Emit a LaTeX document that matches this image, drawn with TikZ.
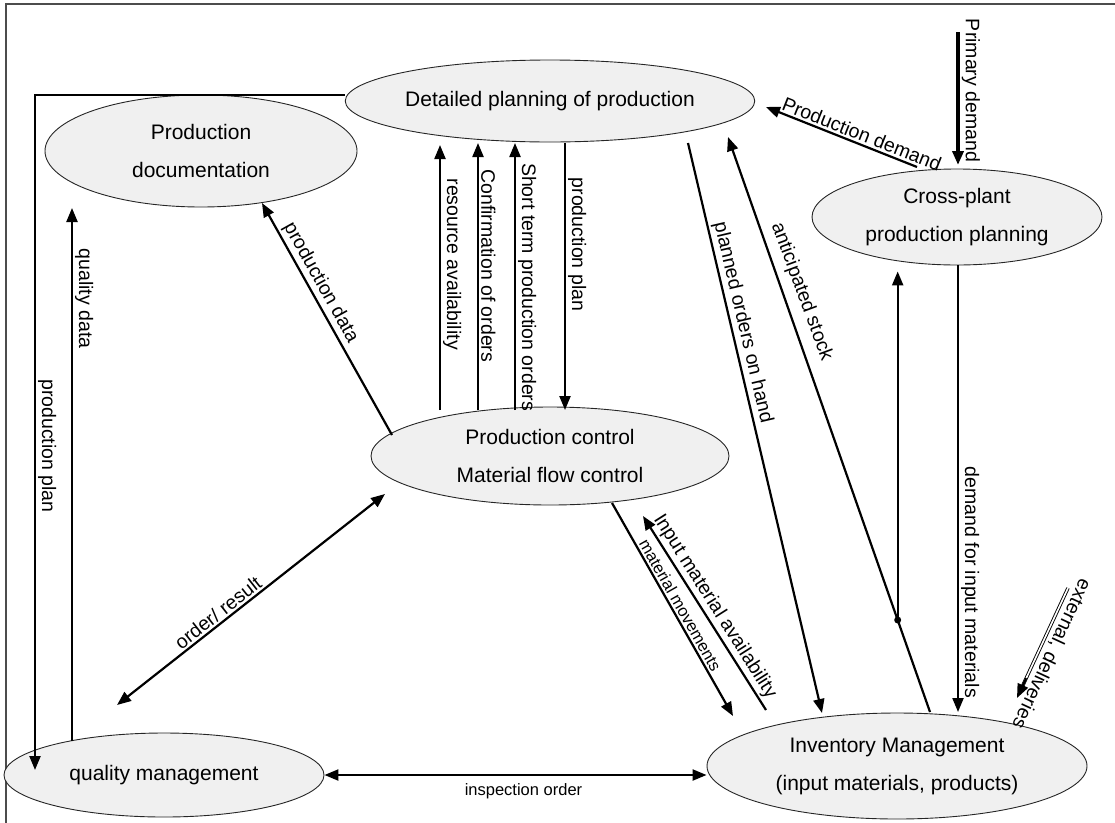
\documentclass[tikz,border=0pt]{standalone}
\usepackage{fontspec}
\setmainfont{Liberation Sans}
\usetikzlibrary{arrows.meta,calc,shapes.geometric}

\begin{document}
\begin{tikzpicture}[x=1pt,y=-1pt,
  proc/.style={ellipse, draw=black!85, line width=0.9pt, fill=gray!12,
    inner sep=0pt, align=center, font=\fontsize{21}{38}\selectfont},
  tipshape/.style={-{Triangle[length=14pt,width=11pt]}},
  flow/.style={line width=2.2pt, tipshape},
  flowboth/.style={line width=2.2pt, {Triangle[length=14pt,width=11pt]}-{Triangle[length=14pt,width=11pt]}},
  lbl/.style={font=\fontsize{19.5}{22}\selectfont, inner sep=2pt},
  smalllbl/.style={font=\fontsize{16.5}{19}\selectfont, inner sep=2pt},
]
\useasboundingbox (0,0) rectangle (1115,822);

% outer frame
\draw[black!70, line width=1.2pt] (6,840) -- (6,4) -- (1130,4);

% functions
\node[proc, minimum width=376, minimum height=82] (DP) at (550,101) {Detailed planning of production};
\node[proc, minimum width=312, minimum height=112] (PD) at (201,151) {Production\\documentation};
\node[proc, minimum width=290, minimum height=96] (CP) at (957,217) {Cross-plant\\production planning};
\node[proc, minimum width=358, minimum height=98] (PC) at (550,456) {Production control\\Material flow control};
\node[proc, minimum width=320, minimum height=84] (QM) at (164,775) {quality management};
\node[proc, minimum width=380, minimum height=106] (IM) at (897,766) {Inventory Management\\(input materials, products)};

% free ends of external flows
\coordinate (pdsrc) at (958,32);
\coordinate (extsrc) at (1068,588);

% planning -> quality management
\draw[flow] (DP.west |- 0,95) -| node[pos=.76, lbl, rotate=-90, anchor=south] {production plan} ($(QM.center)+(-129,-5)$);

% quality management -> documentation
\draw[flow] ($(QM.center)+(-92,-34)$) -- node[pos=.83, lbl, rotate=-90, anchor=south] {quality data} ($(PD.center)+(-129,57)$);

% control -> documentation
\draw[flow] ($(PC.center)+(-158,-21)$) -- node[pos=.63, lbl, rotate=-60.9, anchor=south] {production data} ($(PD.center)+(61,52)$);

% control <-> planning
\draw[flow] ($(PC.center)+(-110,-46)$) -- node[pos=.55, lbl, rotate=-90, anchor=south] {resource availability} ($(DP.center)+(-110,44)$);
\draw[flow] ($(PC.center)+(-72,-46)$) -- node[pos=.54, lbl, rotate=-90, anchor=south] {Confirmation of orders} ($(DP.center)+(-72,42)$);
\draw[flow] ($(PC.center)+(-35,-46)$) -- node[pos=.46, lbl, rotate=-90, anchor=south] {Short term production orders} ($(DP.center)+(-35,42)$);
\draw[flow] ($(DP.center)+(15,42)$) -- node[pos=.38, lbl, rotate=-90, anchor=south] {production plan} ($(PC.center)+(15,-46)$);

% quality management <-> control
\draw[flowboth] ($(QM.center)+(-47,-70)$) -- node[pos=.4, lbl, rotate=38.2, anchor=south] {order/ result} ($(PC.center)+(-165,38)$);

% quality management <-> inventory
\draw[flowboth] (QM.east) -- node[midway, smalllbl, anchor=north, yshift=-5pt, xshift=8pt] {inspection order} (QM.east -| IM.west);

% control <-> inventory
\draw[flow] ($(PC.center)+(62,47)$) -- node[pos=.5, smalllbl, rotate=-60.4, anchor=south] {material movements} ($(IM.center)+(-164,-50)$);
\draw[flow] ($(IM.center)+(-131,-56)$) -- node[pos=.5, lbl, rotate=-57.6, anchor=south] {Input material availability} ($(PC.center)+(93,60)$);

% planning <-> inventory
\draw[flow] ($(DP.center)+(138,42)$) -- node[pos=.32, lbl, rotate=-76.8, anchor=south] {planned orders on hand} ($(IM.center)+(-75,-53)$);
\draw[flow] ($(IM.center)+(33,-54)$) -- coordinate[pos=.16] (jn) node[pos=.72, lbl, rotate=-69.7, anchor=south, inner sep=8pt] {anticipated stock} ($(DP.center)+(178,36)$);

% junction to cross-plant planning
\fill (jn) circle (3.5);
\draw[flow] (jn) -- ($(jn |- CP.south)+(0,6)$);

% cross-plant planning
\draw[flow] ($(CP.center)+(-40,-50)$) -- node[pos=.39, lbl, rotate=-21.7, anchor=south] {Production demand} ($(DP.center)+(216,6)$);
\draw[line width=3.6pt, tipshape] (pdsrc) -- node[pos=.44, lbl, rotate=-90, anchor=south] {Primary demand} ($(CP.center)+(1,-52)$);
\draw[flow] ($(CP.center)+(1,48)$) -- node[pos=.71, lbl, rotate=-90, anchor=south] {demand for input materials} ($(IM.center)+(61,-54)$);

% external deliveries (double line)
\draw[line width=0.9pt, double distance=1.6pt, shorten >=12pt] (extsrc) -- node[pos=.55, lbl, rotate=-114.9, anchor=south, inner sep=4pt] {external, deliveries} ($(IM.center)+(120,-68)$);
\draw[flow] ($(extsrc)!0.82!($(IM.center)+(120,-68)$)$) -- ($(IM.center)+(120,-68)$);
\end{tikzpicture}
\end{document}
